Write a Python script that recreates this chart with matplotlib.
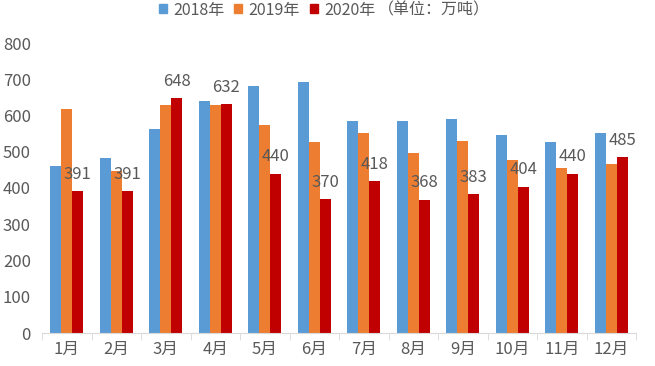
import numpy as np
import matplotlib.pyplot as plt
from matplotlib.patches import Patch

plt.rcParams['font.family'] = ['Noto Sans CJK SC', 'DejaVu Sans']

months = ['1月', '2月', '3月', '4月', '5月', '6月',
          '7月', '8月', '9月', '10月', '11月', '12月']
years = ['2018年', '2019年', '2020年']
v2018 = [462, 482, 564, 640, 682, 693, 585, 585, 591, 546, 527, 553]
v2019 = [617, 448, 630, 630, 573, 528, 553, 497, 530, 476, 456, 465]
v2020 = [391, 391, 648, 632, 440, 370, 418, 368, 383, 404, 440, 485]
colors = ['#5B9BD5', '#ED7D31', '#C00000']
text_color = '#595959'

fig = plt.figure(figsize=(6.55, 3.66), dpi=100)
ax = fig.add_axes([42 / 655, 33 / 366, 594 / 655, 290 / 366])

x = np.arange(len(months))
width = 0.22
for i, vals in enumerate([v2018, v2019, v2020]):
    ax.bar(x + (i - 1) * width, vals, width, color=colors[i], label=years[i])

for xi, v in zip(x, v2020):
    ax.annotate(str(v), (xi + width, v), xytext=(0, 6), textcoords='offset points',
                ha='center', va='bottom', fontsize=12, color=text_color)

ax.set_xlim(-0.5, len(months) - 0.5)
ax.set_ylim(0, 800)
ax.set_yticks(range(0, 801, 100))
ax.set_xticks(x)
ax.set_xticklabels(months)
ax.set_xticks(np.arange(-0.5, len(months), 1), minor=True)
ax.tick_params(axis='x', which='major', length=0, pad=6, labelsize=12, labelcolor=text_color)
ax.tick_params(axis='x', which='minor', length=5, color='#d9d9d9')
ax.tick_params(axis='y', length=0, pad=8, labelsize=12, labelcolor=text_color)
for side in ['left', 'right', 'top']:
    ax.spines[side].set_visible(False)
ax.spines['bottom'].set_color('#d9d9d9')

handles = [Patch(color=c) for c in colors]
fig.legend(handles, years, loc='center left', bbox_to_anchor=(159 / 655, 1 - 10 / 366),
           ncol=3, frameon=False, fontsize=11.5, labelcolor=text_color,
           handlelength=0.5, handleheight=0.5, handletextpad=0.4,
           columnspacing=0.6, borderpad=0, borderaxespad=0)
fig.text(378 / 655, 1 - 10 / 366, '（单位：万吨）', fontsize=11.5, color=text_color,
         va='center', ha='left')

fig.savefig('out.png', dpi=100)
